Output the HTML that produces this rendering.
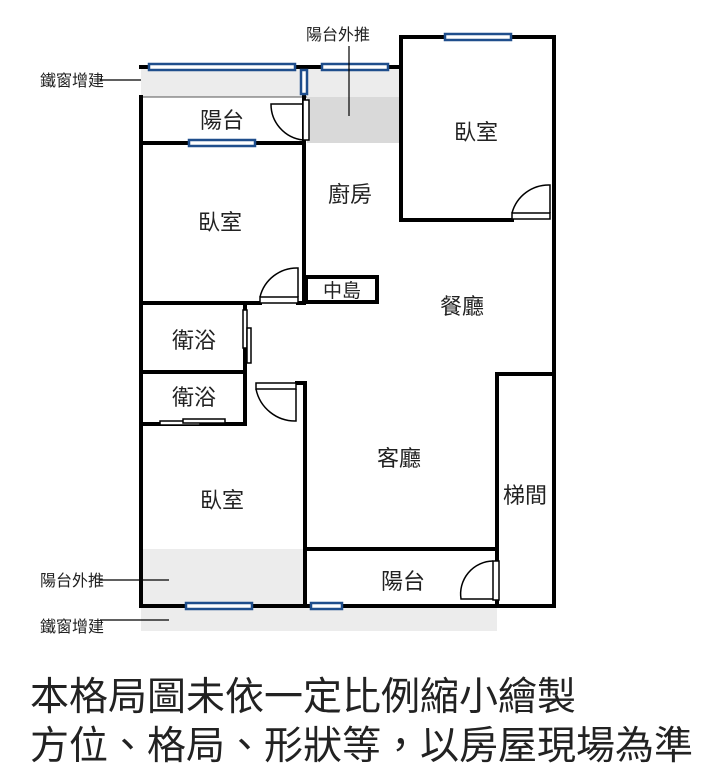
<!DOCTYPE html><html><head><meta charset="utf-8"><style>body{margin:0;background:#fff}svg{display:block}text{font-family:"Liberation Sans","Noto Sans CJK TC",sans-serif;fill:#222}</style></head><body>
<svg width="711" height="783" viewBox="0 0 711 783" xmlns="http://www.w3.org/2000/svg">
<rect x="141" y="67" width="259" height="30" fill="#ececec"/>
<rect x="307" y="97" width="93" height="46" fill="#d9d9d9"/>
<rect x="141" y="549" width="164" height="57" fill="#ececec"/>
<rect x="141" y="606" width="356" height="25" fill="#ececec"/>
<line x1="141" y1="97" x2="307" y2="97" stroke="#555" stroke-width="1"/>
<g stroke="#000" stroke-width="4" fill="none" stroke-linecap="square">
<line x1="141" y1="67" x2="400" y2="67"/>
<line x1="141" y1="97" x2="141" y2="606"/>
<line x1="141" y1="606" x2="554" y2="606"/>
<line x1="554" y1="37" x2="554" y2="606"/>
<line x1="401" y1="37" x2="554" y2="37"/>
<line x1="401" y1="37" x2="401" y2="220"/>
<line x1="401" y1="220" x2="512" y2="220"/>
<line x1="304" y1="67" x2="304" y2="303"/>
<line x1="141" y1="143" x2="304" y2="143"/>
<line x1="141" y1="303" x2="260" y2="303"/>
<line x1="298" y1="303" x2="304" y2="303"/>
<line x1="141" y1="372" x2="245" y2="372"/>
<line x1="245" y1="303" x2="245" y2="424"/>
<line x1="141" y1="424" x2="245" y2="424"/>
<line x1="297" y1="383" x2="305" y2="383"/>
<line x1="305" y1="383" x2="305" y2="606"/>
<line x1="305" y1="549" x2="497" y2="549"/>
<line x1="497" y1="374" x2="554" y2="374"/>
<line x1="497" y1="374" x2="497" y2="606"/>
<rect x="306" y="277" width="71" height="25"/>
</g>
<g fill="#fff" stroke="#1f4e8c" stroke-width="2.5">
<rect x="149" y="64" width="146" height="6"/>
<rect x="301" y="70" width="6" height="24"/>
<rect x="322" y="64" width="66" height="6"/>
<rect x="189" y="140" width="66" height="6"/>
<rect x="445" y="34" width="66" height="6"/>
<rect x="186" y="603" width="66" height="6"/>
<rect x="311" y="603" width="31" height="6"/>
</g>
<g fill="#fff" stroke="#000" stroke-width="1.5">
<rect x="303" y="100" width="6" height="40"/>
<path d="M303 140 A36 36 0 0 1 271 104 L303 104" fill="none"/>
<rect x="512" y="213" width="38" height="6"/>
<path d="M512 213 A38 38 0 0 1 550 185 L550 213" fill="none"/>
<rect x="260" y="297" width="38" height="6"/>
<path d="M260 297 A38 38 0 0 1 298 268 L298 297" fill="none"/>
<rect x="243" y="310" width="4" height="38"/>
<rect x="247" y="328" width="4" height="35"/>
<rect x="160" y="421" width="40" height="4"/>
<rect x="183" y="419" width="42" height="4"/>
<rect x="256" y="383" width="40" height="6"/>
<path d="M256 389 A40 40 0 0 0 296 421 L296 389" fill="none"/>
<rect x="493" y="561" width="6" height="39"/>
<path d="M493 561 A33 33 0 0 0 461 599 L493 599" fill="none"/>
</g>
<g stroke="#000" stroke-width="1.2">
<line x1="100" y1="80" x2="141" y2="80"/>
<line x1="349" y1="46" x2="349" y2="116"/>
<line x1="100" y1="580" x2="169" y2="580"/>
<line x1="100" y1="620" x2="169" y2="620"/>
</g>
<g font-size="22" text-anchor="middle">
<text x="222" y="128">陽台</text>
<text x="220" y="230">臥室</text>
<text x="476" y="140">臥室</text>
<text x="350" y="202">廚房</text>
<text x="342" y="297" font-size="19">中島</text>
<text x="462" y="314">餐廳</text>
<text x="194" y="348">衛浴</text>
<text x="194" y="405">衛浴</text>
<text x="399" y="466">客廳</text>
<text x="222" y="508">臥室</text>
<text x="525" y="503">梯間</text>
<text x="403" y="589">陽台</text>
</g>
<g font-size="16">
<text x="40" y="86">鐵窗增建</text>
<text x="306" y="40">陽台外推</text>
<text x="40" y="586">陽台外推</text>
<text x="40" y="632">鐵窗增建</text>
</g>
<g font-size="39">
<text x="30" y="710">本格局圖未依一定比例縮小繪製</text>
<text x="30" y="759">方位、格局、形狀等，以房屋現場為準</text>
</g>
</svg></body></html>
